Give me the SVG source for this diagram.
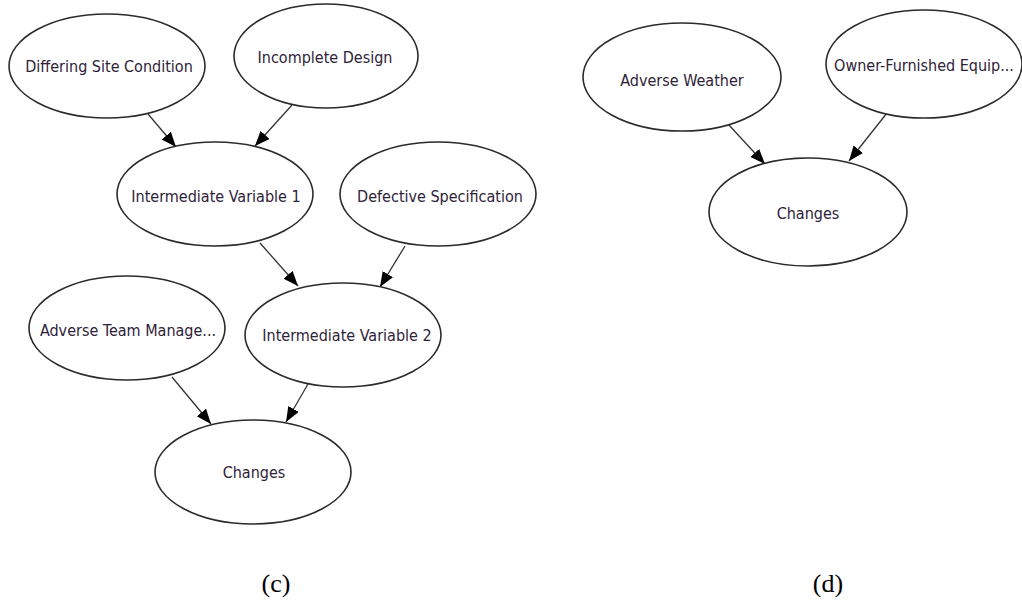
<svg xmlns="http://www.w3.org/2000/svg" width="1022" height="606" viewBox="0 0 1022 606">
  <style>
    .node ellipse { fill: #ffffff; stroke: #2b2b2b; stroke-width: 1.6; }
    .node text { font-family: "DejaVu Sans Condensed", "DejaVu Sans", sans-serif; font-stretch: condensed; font-size: 16px; fill: #2e2238; text-anchor: middle; }
    .edge { stroke: #333333; stroke-width: 1.3; fill: none; marker-end: url(#arrow); }
    .caption { font-family: "Liberation Serif", "Times New Roman", serif; font-size: 26px; fill: #000000; text-anchor: middle; }
  </style>
  <defs>
    <marker id="arrow" markerUnits="userSpaceOnUse" markerWidth="18" markerHeight="14" refX="15" refY="6" orient="auto">
      <path d="M0,0 L15,6 L0,12 Z" fill="#000000"/>
    </marker>
  </defs>
  <rect width="1022" height="606" fill="#ffffff"/>

  <!-- connectors -->
  <g id="connectors">
    <line class="edge" x1="148" y1="114" x2="176" y2="147"/>
    <line class="edge" x1="292" y1="105" x2="255" y2="146"/>
    <line class="edge" x1="260" y1="243" x2="298" y2="286"/>
    <line class="edge" x1="405" y1="246" x2="380" y2="287"/>
    <line class="edge" x1="172" y1="377" x2="211" y2="424"/>
    <line class="edge" x1="308" y1="384" x2="286" y2="422"/>
    <line class="edge" x1="728" y1="124" x2="765" y2="164"/>
    <line class="edge" x1="887" y1="113" x2="849" y2="161"/>
  </g>

  <!-- network (c) -->
  <g id="differing-site-condition" class="node">
    <ellipse cx="107" cy="66" rx="98" ry="52"/>
    <text x="109" y="72">Differing Site Condition</text>
  </g>
  <g id="incomplete-design" class="node">
    <ellipse cx="326" cy="56" rx="92" ry="52"/>
    <text x="325" y="63">Incomplete Design</text>
  </g>
  <g id="intermediate-variable-1" class="node">
    <ellipse cx="215" cy="194" rx="98" ry="52"/>
    <text x="216" y="202">Intermediate Variable 1</text>
  </g>
  <g id="defective-specification" class="node">
    <ellipse cx="438" cy="194" rx="98" ry="52"/>
    <text x="440" y="202">Defective Specification</text>
  </g>
  <g id="adverse-team-management" class="node">
    <ellipse cx="127" cy="328" rx="98" ry="52"/>
    <text x="128" y="336">Adverse Team Manage...</text>
  </g>
  <g id="intermediate-variable-2" class="node">
    <ellipse cx="343" cy="335" rx="98" ry="52"/>
    <text x="347" y="341">Intermediate Variable 2</text>
  </g>
  <g id="changes-c" class="node">
    <ellipse cx="253" cy="472" rx="98" ry="52"/>
    <text x="254" y="478">Changes</text>
  </g>

  <!-- network (d) -->
  <g id="adverse-weather" class="node">
    <ellipse cx="682" cy="77" rx="99" ry="54"/>
    <text x="682" y="86">Adverse Weather</text>
  </g>
  <g id="owner-furnished-equipment" class="node">
    <ellipse cx="924" cy="64" rx="98" ry="54"/>
    <text x="924" y="71">Owner-Furnished Equip...</text>
  </g>
  <g id="changes-d" class="node">
    <ellipse cx="808" cy="212" rx="99" ry="54"/>
    <text x="808" y="219">Changes</text>
  </g>

  <!-- sub-figure captions -->
  <text class="caption" x="276" y="592">(c)</text>
  <text class="caption" x="828" y="592">(d)</text>
</svg>
